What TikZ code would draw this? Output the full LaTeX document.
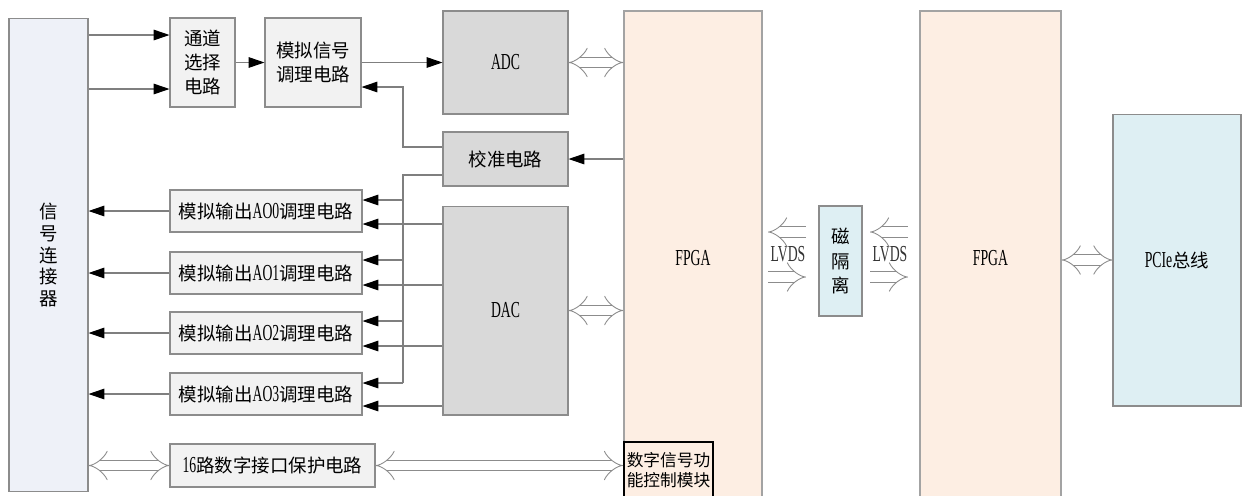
\documentclass[tikz,border=0pt]{standalone}
\usepackage{fontspec}
\usepackage{xcolor}
\usepackage{tikz}
\usetikzlibrary{arrows.meta, positioning, calc}

\newfontfamily\cjk{Noto Sans CJK SC}
\newfontfamily\lat{Liberation Serif}[Scale=1.24, FakeStretch=0.6]

\definecolor{linegray}{HTML}{7F7F7F}
\definecolor{boxgray}{HTML}{8C8C8C}
\definecolor{connfill}{HTML}{EEF1F8}
\definecolor{lightfill}{HTML}{F2F2F2}
\definecolor{darkfill}{HTML}{D9D9D9}
\definecolor{fpgafill}{HTML}{FDEEE3}
\definecolor{isofill}{HTML}{DEEFF3}

\begin{document}
\begin{tikzpicture}[x=0.02cm, y=-0.02cm,
            font=\cjk\fontsize{10.5}{13.5}\selectfont,
            box/.style={draw=boxgray, line width=0.6pt, fill=lightfill, inner sep=1pt, align=center},
            dark/.style={box, fill=darkfill},
            fpga/.style={draw=boxgray!80, line width=0.8pt, fill=fpgafill, minimum width=2.76cm, minimum height=9.88cm},
            arr/.style={draw=linegray, line width=0.6pt, -{Triangle[length=9pt, width=6pt, color=black]}},
            wire/.style={draw=linegray, line width=0.6pt},
            dbl/.style={draw=linegray!90, line width=0.5pt, double=white, double distance=5.6pt,
                        {Implies[length=6pt, width=13pt]}-{Implies[length=6pt, width=13pt]}},
            one/.style={draw=linegray!90, line width=0.5pt, double=white, double distance=5.6pt,
                        -{Implies[length=6pt, width=13pt]}}]

            \useasboundingbox (0,0) rectangle (1242,495);
            \fill[white] (0,0) rectangle (1242,495);
            \clip (0,0) rectangle (1242,495);

            % connector and input chain
            \node[box, fill=connfill, minimum width=1.58cm, minimum height=9.48cm,
                  font=\cjk\fontsize{10.5}{12.5}\selectfont] (conn) at (48.5,255) {信\\号\\连\\接\\器};
            \node[box, minimum width=1.30cm, minimum height=1.78cm,
                  font=\cjk\fontsize{10.5}{13.6}\selectfont] (sel) at (202.5,62.5) {通道\\选择\\电路};
            \node[box, minimum width=1.92cm, minimum height=1.78cm] (sig) at (313,62.5) {模拟信号\\调理电路};
            \node[dark, minimum width=2.5cm, minimum height=2.06cm] (adc) at (505.5,62.5) {\lat ADC};
            \node[dark, minimum width=2.5cm, minimum height=1.08cm] (cal) at (505.5,159) {校准电路};
            \node[dark, minimum width=2.5cm, minimum height=4.18cm] (dac) at (505.5,310.5) {\lat DAC};

            % analog outputs
            \node[box, minimum width=3.84cm, minimum height=0.84cm] (ao0) at (266,211) {模拟输出{\lat AO0}调理电路};
            \node[box, minimum width=3.84cm, minimum height=0.84cm] (ao1) at (266,273) {模拟输出{\lat AO1}调理电路};
            \node[box, minimum width=3.84cm, minimum height=0.84cm] (ao2) at (266,333) {模拟输出{\lat AO2}调理电路};
            \node[box, minimum width=3.84cm, minimum height=0.84cm] (ao3) at (266,394) {模拟输出{\lat AO3}调理电路};
            \node[box, minimum width=4.1cm, minimum height=0.86cm] (dig) at (272.5,465.5) {{\lat 16}路数字接口保护电路};

            % fpga side
            \node[fpga] (fpga1) at (693,258) {\lat FPGA};
            \node[fpga, minimum width=2.82cm] (fpga2) at (990.5,258) {\lat FPGA};
            \node[draw=black, line width=1.1pt, fill=fpgafill, inner sep=1pt, minimum width=1.78cm, minimum height=1.12cm,
                  align=left, font=\cjk\fontsize{9.5}{11.5}\selectfont] (ctl) at (668.5,470) {数字信号功\\能控制模块};
            \node[box, fill=isofill, minimum width=0.86cm, minimum height=2.2cm,
                  font=\cjk\fontsize{10.5}{14.2}\selectfont] (iso) at (840.5,261) {磁\\隔\\离};
            \node[box, fill=isofill, minimum width=2.56cm, minimum height=5.84cm] (pcie) at (1177,260) {{\lat PCIe}总线};

            \node[text=black!80] (lvds_l) at (788,254) {\lat LVDS};
            \node[text=black!80] (lvds_r) at (890,254) {\lat LVDS};
            \coordinate (bus) at (403,0);
            \coordinate (la) at (768,232);
            \coordinate (lb) at (806,232);
            \coordinate (lc) at (768,277);
            \coordinate (ld) at (806,277);
            \coordinate (ra) at (870,232);
            \coordinate (rb) at (908,232);
            \coordinate (rc) at (870,277);
            \coordinate (rd) at (908,277);

            % connections
            \draw[arr] (conn.east |- 0,35) -- (sel.west |- 0,35);
            \draw[arr] (conn.east |- 0,89) -- (sel.west |- 0,89);
            \draw[arr] (sel) -- (sig);
            \draw[arr] (sig) -- (adc);
            \draw[dbl] (adc) -- (fpga1.west |- adc);
            \draw[arr] (fpga1.west |- cal) -- (cal);
            \draw[arr] (cal.west |- 0,147) -| (bus |- 0,87) -- (sig.east |- 0,87);
            \draw[wire] (cal.west |- 0,175) -| (bus |- 0,383);
            \foreach \n/\y in {ao0/200, ao1/260, ao2/321, ao3/383}
                \draw[arr] (bus |- 0,\y) -- (\n.east |- 0,\y);
            \foreach \n/\y in {ao0/224, ao1/285, ao2/346, ao3/406}
                \draw[arr] (dac.west |- 0,\y) -- (\n.east |- 0,\y);
            \foreach \n in {ao0, ao1, ao2, ao3}
                \draw[arr] (\n) -- (conn.east |- \n);
            \draw[dbl] (dac) -- (fpga1.west |- dac);
            \draw[dbl] (conn.east |- dig) -- (dig);
            \draw[dbl] (dig) -- (ctl.west |- dig);
            \draw[one] (lb) -- (la);
            \draw[one] (lc) -- (ld);
            \draw[one] (rb) -- (ra);
            \draw[one] (rc) -- (rd);
            \draw[dbl] (fpga2.east |- pcie) -- (pcie);
        \end{tikzpicture}
\end{document}
